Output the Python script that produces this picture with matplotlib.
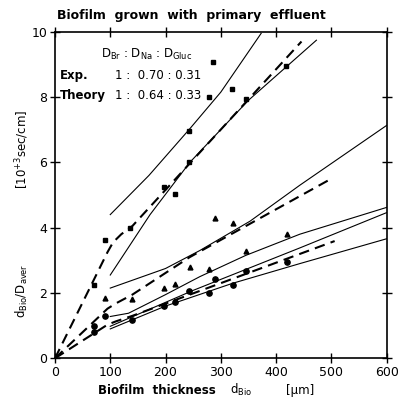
import matplotlib.pyplot as plt

plt.rcParams["font.family"] = "DejaVu Sans"

# measured points
BR_X = [70, 90, 136, 198, 217, 242, 242, 279, 321, 345, 418]
BR_Y = [2.25, 3.62, 4.0, 5.23, 5.02, 6.97, 6.0, 8.0, 8.26, 7.95, 8.94]

NA_X = [90, 139, 198, 217, 244, 279, 289, 322, 345, 420]
NA_Y = [1.85, 1.82, 2.15, 2.29, 2.8, 2.74, 4.31, 4.15, 3.3, 3.82]

GL_X = [70, 70, 90, 139, 198, 217, 243, 279, 289, 322, 345, 420]
GL_Y = [0.82, 0.98, 1.3, 1.18, 1.61, 1.71, 2.05, 2.0, 2.43, 2.25, 2.66, 2.94]

# fitted curves (dashed) and bands (solid)
BR_FIT_X = [0, 95, 105, 120, 140, 446]
BR_FIT_Y = [0, 3.25, 3.55, 3.8, 4.05, 9.7]
NA_FIT_X = [0, 95, 110, 140, 244, 500]
NA_FIT_Y = [0, 1.52, 1.68, 1.95, 3.1, 5.5]
GL_FIT_X = [0, 95, 110, 140, 506]
GL_FIT_Y = [0, 1.03, 1.13, 1.3, 3.59]

BANDS = [
    ([100, 170, 244, 300, 373], [4.4, 5.6, 7.03, 8.15, 9.95]),
    ([100, 172, 244, 350, 473], [2.55, 4.4, 6.0, 7.9, 9.74]),
    ([100, 200, 262, 353, 443, 600], [2.15, 2.75, 3.3, 4.2, 5.3, 7.13]),
    ([100, 133, 200, 262, 345, 443, 600], [1.28, 1.38, 1.95, 2.5, 3.15, 3.8, 4.62]),
    ([100, 250, 443, 600], [0.98, 2.08, 3.38, 4.46]),
    ([100, 200, 322, 443, 600], [0.9, 1.6, 2.3, 2.9, 3.66]),
]

XTICKS = [0, 100, 200, 300, 400, 500, 600]
YTICKS = [0, 2, 4, 6, 8, 10]

fig = plt.figure(figsize=(4.0, 4.04), dpi=100)
ax = fig.add_axes([0.1375, 0.1131, 0.829, 0.8084])

for bx, by in BANDS:
    ax.plot(bx, by, color="black", lw=0.8)
for fx, fy in [(BR_FIT_X, BR_FIT_Y), (NA_FIT_X, NA_FIT_Y), (GL_FIT_X, GL_FIT_Y)]:
    ax.plot(fx, fy, color="black", lw=1.5, dashes=(5, 3))

ax.plot(BR_X, BR_Y, "s", color="black", ms=3.5)
ax.plot(NA_X, NA_Y, "^", color="black", ms=3.5)
ax.plot(GL_X, GL_Y, "o", color="black", ms=3.8)

ax.set_xlim(0, 600)
ax.set_ylim(0, 10)
ax.set_xticks(XTICKS)
ax.set_yticks(YTICKS)
ax.tick_params(direction="inout", length=7, width=1.0, labelsize=9,
               top=True, right=True, pad=2)
for s in ax.spines.values():
    s.set_linewidth(1.2)

# legend-like block
ax.text(0.14, 0.955, "D$_{\\rm Br}$ : D$_{\\rm Na}$ : D$_{\\rm Gluc}$",
        transform=ax.transAxes, fontsize=8.5, va="top")
ax.text(0.015, 0.885, "Exp.", transform=ax.transAxes, fontsize=8.5,
        va="top", fontweight="bold")
ax.text(0.18, 0.885, "1 :  0.70 : 0.31", transform=ax.transAxes,
        fontsize=8.5, va="top")
ax.text(0.015, 0.825, "Theory", transform=ax.transAxes, fontsize=8.5,
        va="top", fontweight="bold")
ax.text(0.18, 0.825, "1 :  0.64 : 0.33", transform=ax.transAxes,
        fontsize=8.5, va="top")
ax.plot([0.475], [0.908], "s", color="black", ms=3, transform=ax.transAxes)

fig.text(0.143, 0.962, "Biofilm  grown  with  primary  effluent",
         fontsize=9, fontweight="bold", va="center")
fig.text(0.245, 0.034, "Biofilm  thickness", fontsize=8.5,
         fontweight="bold", va="center")
fig.text(0.575, 0.034, "d$_{\\rm Bio}$", fontsize=8.5, va="center")
fig.text(0.715, 0.034, "[μm]", fontsize=8.5, va="center")
fig.text(0.055, 0.28, "d$_{\\rm Bio}$/D$_{\\rm aver}$", fontsize=8.5,
         rotation=90, ha="center", va="center")
fig.text(0.055, 0.63, "[10$^{+3}$sec/cm]", fontsize=8.5,
         rotation=90, ha="center", va="center")

fig.savefig("out.png", dpi=100)
